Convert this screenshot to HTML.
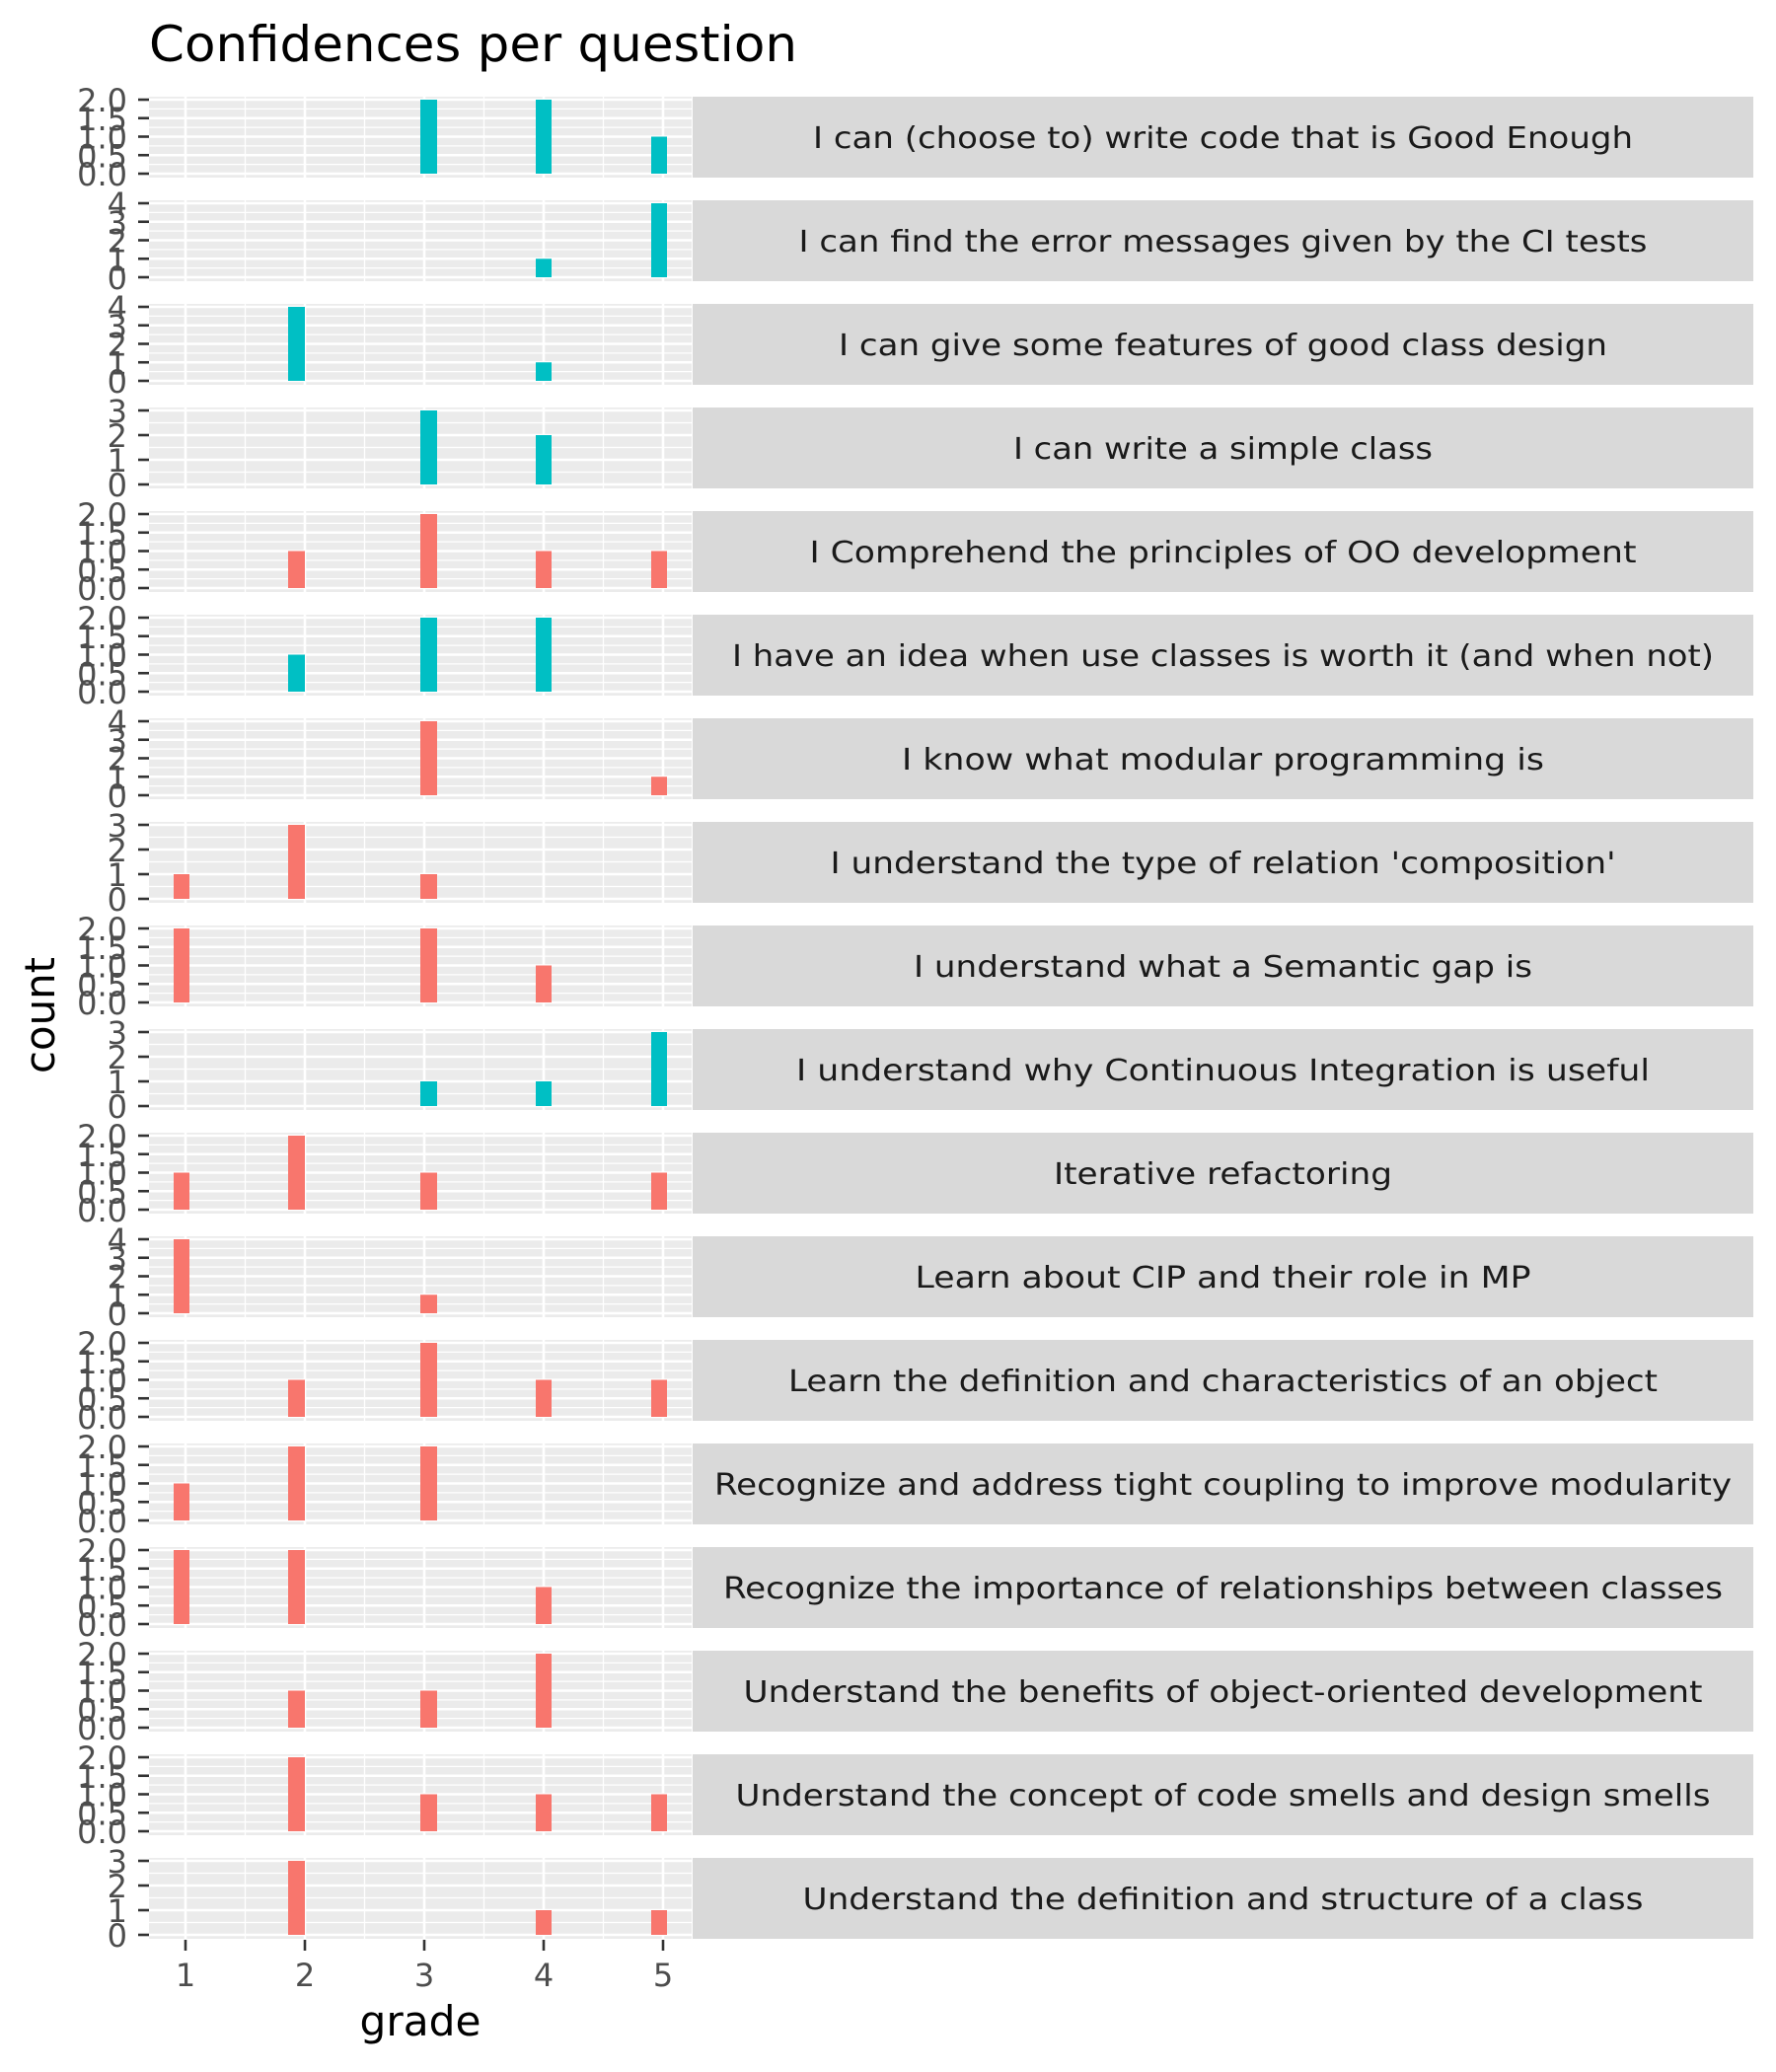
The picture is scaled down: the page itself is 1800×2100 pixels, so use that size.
<!DOCTYPE html>
<html><head><meta charset="utf-8"><style>
html,body{margin:0;padding:0;background:#fff;}
svg{display:block;}
text{font-family:"DejaVu Sans","Liberation Sans",sans-serif;}
.yl{font-size:32px;fill:#4d4d4d;text-anchor:end;}
.xl{font-size:32px;fill:#4d4d4d;text-anchor:middle;}
.st{font-size:30px;fill:#1a1a1a;text-anchor:middle;}
.t{fill:#00bfc4;} .r{fill:#f8766d;}
</style></head><body>
<svg width="1800" height="2100" viewBox="0 0 1800 2100" xmlns="http://www.w3.org/2000/svg">
<defs>
<g id="vg">
<rect x="151" y="0" width="550" height="82" fill="#ebebeb"/>
<g stroke="#fff" stroke-width="1.3">
<line x1="248.5" y1="0" x2="248.5" y2="82"/><line x1="369.5" y1="0" x2="369.5" y2="82"/><line x1="490.5" y1="0" x2="490.5" y2="82"/><line x1="611.5" y1="0" x2="611.5" y2="82"/>
</g>
<g stroke="#fff" stroke-width="2.6">
<line x1="188" y1="0" x2="188" y2="82"/><line x1="309" y1="0" x2="309" y2="82"/><line x1="430" y1="0" x2="430" y2="82"/><line x1="551" y1="0" x2="551" y2="82"/><line x1="672" y1="0" x2="672" y2="82"/>
</g>
<rect x="702" y="0" width="1075" height="82" fill="#d9d9d9"/>
</g>
<g id="g4">
<use href="#vg"/>
<g stroke="#fff" stroke-width="1.3">
<line x1="151" y1="68.6" x2="701" y2="68.6"/><line x1="151" y1="49.9" x2="701" y2="49.9"/><line x1="151" y1="31.1" x2="701" y2="31.1"/><line x1="151" y1="12.4" x2="701" y2="12.4"/>
</g>
<g stroke="#fff" stroke-width="2.6">
<line x1="151" y1="78" x2="701" y2="78"/><line x1="151" y1="59.25" x2="701" y2="59.25"/><line x1="151" y1="40.5" x2="701" y2="40.5"/><line x1="151" y1="21.75" x2="701" y2="21.75"/><line x1="151" y1="3" x2="701" y2="3"/>
</g>
<g stroke="#333" stroke-width="2.6">
<line x1="140" y1="78" x2="151" y2="78"/><line x1="140" y1="59.25" x2="151" y2="59.25"/><line x1="140" y1="40.5" x2="151" y2="40.5"/><line x1="140" y1="21.75" x2="151" y2="21.75"/><line x1="140" y1="3" x2="151" y2="3"/>
</g>
</g>
<g id="g3">
<use href="#vg"/>
<g stroke="#fff" stroke-width="1.3">
<line x1="151" y1="65.5" x2="701" y2="65.5"/><line x1="151" y1="40.5" x2="701" y2="40.5"/><line x1="151" y1="15.5" x2="701" y2="15.5"/>
</g>
<g stroke="#fff" stroke-width="2.6">
<line x1="151" y1="78" x2="701" y2="78"/><line x1="151" y1="53" x2="701" y2="53"/><line x1="151" y1="28" x2="701" y2="28"/><line x1="151" y1="3" x2="701" y2="3"/>
</g>
<g stroke="#333" stroke-width="2.6">
<line x1="140" y1="78" x2="151" y2="78"/><line x1="140" y1="53" x2="151" y2="53"/><line x1="140" y1="28" x2="151" y2="28"/><line x1="140" y1="3" x2="151" y2="3"/>
</g>
</g>
</defs>

<text x="151" y="62" font-size="50" fill="#000" textLength="657" lengthAdjust="spacingAndGlyphs">Confidences per question</text>

<g transform="translate(0,98)"><use href="#g4"/>
<text class="yl" x="129" y="90">0.0</text><text class="yl" x="129" y="71.25">0.5</text><text class="yl" x="129" y="52.5">1.0</text><text class="yl" x="129" y="33.75">1.5</text><text class="yl" x="129" y="15">2.0</text>
<rect class="t" x="426" y="3" width="17" height="75"/><rect class="t" x="543" y="3" width="16" height="75"/><rect class="t" x="660" y="40.5" width="16" height="37.5"/>
<text class="st" x="1239.5" y="52" textLength="831" lengthAdjust="spacingAndGlyphs">I can (choose to) write code that is Good Enough</text></g>
<g transform="translate(0,203)"><use href="#g4"/>
<text class="yl" x="129" y="90">0</text><text class="yl" x="129" y="71.25">1</text><text class="yl" x="129" y="52.5">2</text><text class="yl" x="129" y="33.75">3</text><text class="yl" x="129" y="15">4</text>
<rect class="t" x="543" y="59.25" width="16" height="18.75"/><rect class="t" x="660" y="3" width="16" height="75"/>
<text class="st" x="1239.5" y="52" textLength="860" lengthAdjust="spacingAndGlyphs">I can find the error messages given by the CI tests</text></g>
<g transform="translate(0,308)"><use href="#g4"/>
<text class="yl" x="129" y="90">0</text><text class="yl" x="129" y="71.25">1</text><text class="yl" x="129" y="52.5">2</text><text class="yl" x="129" y="33.75">3</text><text class="yl" x="129" y="15">4</text>
<rect class="t" x="292" y="3" width="17" height="75"/><rect class="t" x="543" y="59.25" width="16" height="18.75"/>
<text class="st" x="1239.5" y="52" textLength="779" lengthAdjust="spacingAndGlyphs">I can give some features of good class design</text></g>
<g transform="translate(0,413)"><use href="#g3"/>
<text class="yl" x="129" y="90">0</text><text class="yl" x="129" y="65">1</text><text class="yl" x="129" y="40">2</text><text class="yl" x="129" y="15">3</text>
<rect class="t" x="426" y="3" width="17" height="75"/><rect class="t" x="543" y="28" width="16" height="50"/>
<text class="st" x="1239.5" y="52" textLength="425" lengthAdjust="spacingAndGlyphs">I can write a simple class</text></g>
<g transform="translate(0,518)"><use href="#g4"/>
<text class="yl" x="129" y="90">0.0</text><text class="yl" x="129" y="71.25">0.5</text><text class="yl" x="129" y="52.5">1.0</text><text class="yl" x="129" y="33.75">1.5</text><text class="yl" x="129" y="15">2.0</text>
<rect class="r" x="292" y="40.5" width="17" height="37.5"/><rect class="r" x="426" y="3" width="17" height="75"/><rect class="r" x="543" y="40.5" width="16" height="37.5"/><rect class="r" x="660" y="40.5" width="16" height="37.5"/>
<text class="st" x="1239.5" y="52" textLength="838" lengthAdjust="spacingAndGlyphs">I Comprehend the principles of OO development</text></g>
<g transform="translate(0,623)"><use href="#g4"/>
<text class="yl" x="129" y="90">0.0</text><text class="yl" x="129" y="71.25">0.5</text><text class="yl" x="129" y="52.5">1.0</text><text class="yl" x="129" y="33.75">1.5</text><text class="yl" x="129" y="15">2.0</text>
<rect class="t" x="292" y="40.5" width="17" height="37.5"/><rect class="t" x="426" y="3" width="17" height="75"/><rect class="t" x="543" y="3" width="16" height="75"/>
<text class="st" x="1239.5" y="52" textLength="995" lengthAdjust="spacingAndGlyphs">I have an idea when use classes is worth it (and when not)</text></g>
<g transform="translate(0,728)"><use href="#g4"/>
<text class="yl" x="129" y="90">0</text><text class="yl" x="129" y="71.25">1</text><text class="yl" x="129" y="52.5">2</text><text class="yl" x="129" y="33.75">3</text><text class="yl" x="129" y="15">4</text>
<rect class="r" x="426" y="3" width="17" height="75"/><rect class="r" x="660" y="59.25" width="16" height="18.75"/>
<text class="st" x="1239.5" y="52" textLength="651" lengthAdjust="spacingAndGlyphs">I know what modular programming is</text></g>
<g transform="translate(0,833)"><use href="#g3"/>
<text class="yl" x="129" y="90">0</text><text class="yl" x="129" y="65">1</text><text class="yl" x="129" y="40">2</text><text class="yl" x="129" y="15">3</text>
<rect class="r" x="176" y="53" width="16" height="25"/><rect class="r" x="292" y="3" width="17" height="75"/><rect class="r" x="426" y="53" width="17" height="25"/>
<text class="st" x="1239.5" y="52" textLength="796" lengthAdjust="spacingAndGlyphs">I understand the type of relation 'composition'</text></g>
<g transform="translate(0,938)"><use href="#g4"/>
<text class="yl" x="129" y="90">0.0</text><text class="yl" x="129" y="71.25">0.5</text><text class="yl" x="129" y="52.5">1.0</text><text class="yl" x="129" y="33.75">1.5</text><text class="yl" x="129" y="15">2.0</text>
<rect class="r" x="176" y="3" width="16" height="75"/><rect class="r" x="426" y="3" width="17" height="75"/><rect class="r" x="543" y="40.5" width="16" height="37.5"/>
<text class="st" x="1239.5" y="52" textLength="627" lengthAdjust="spacingAndGlyphs">I understand what a Semantic gap is</text></g>
<g transform="translate(0,1043)"><use href="#g3"/>
<text class="yl" x="129" y="90">0</text><text class="yl" x="129" y="65">1</text><text class="yl" x="129" y="40">2</text><text class="yl" x="129" y="15">3</text>
<rect class="t" x="426" y="53" width="17" height="25"/><rect class="t" x="543" y="53" width="16" height="25"/><rect class="t" x="660" y="3" width="16" height="75"/>
<text class="st" x="1239.5" y="52" textLength="865" lengthAdjust="spacingAndGlyphs">I understand why Continuous Integration is useful</text></g>
<g transform="translate(0,1148)"><use href="#g4"/>
<text class="yl" x="129" y="90">0.0</text><text class="yl" x="129" y="71.25">0.5</text><text class="yl" x="129" y="52.5">1.0</text><text class="yl" x="129" y="33.75">1.5</text><text class="yl" x="129" y="15">2.0</text>
<rect class="r" x="176" y="40.5" width="16" height="37.5"/><rect class="r" x="292" y="3" width="17" height="75"/><rect class="r" x="426" y="40.5" width="17" height="37.5"/><rect class="r" x="660" y="40.5" width="16" height="37.5"/>
<text class="st" x="1239.5" y="52" textLength="343" lengthAdjust="spacingAndGlyphs">Iterative refactoring</text></g>
<g transform="translate(0,1253)"><use href="#g4"/>
<text class="yl" x="129" y="90">0</text><text class="yl" x="129" y="71.25">1</text><text class="yl" x="129" y="52.5">2</text><text class="yl" x="129" y="33.75">3</text><text class="yl" x="129" y="15">4</text>
<rect class="r" x="176" y="3" width="16" height="75"/><rect class="r" x="426" y="59.25" width="17" height="18.75"/>
<text class="st" x="1239.5" y="52" textLength="624" lengthAdjust="spacingAndGlyphs">Learn about CIP and their role in MP</text></g>
<g transform="translate(0,1358)"><use href="#g4"/>
<text class="yl" x="129" y="90">0.0</text><text class="yl" x="129" y="71.25">0.5</text><text class="yl" x="129" y="52.5">1.0</text><text class="yl" x="129" y="33.75">1.5</text><text class="yl" x="129" y="15">2.0</text>
<rect class="r" x="292" y="40.5" width="17" height="37.5"/><rect class="r" x="426" y="3" width="17" height="75"/><rect class="r" x="543" y="40.5" width="16" height="37.5"/><rect class="r" x="660" y="40.5" width="16" height="37.5"/>
<text class="st" x="1239.5" y="52" textLength="881" lengthAdjust="spacingAndGlyphs">Learn the definition and characteristics of an object</text></g>
<g transform="translate(0,1463)"><use href="#g4"/>
<text class="yl" x="129" y="90">0.0</text><text class="yl" x="129" y="71.25">0.5</text><text class="yl" x="129" y="52.5">1.0</text><text class="yl" x="129" y="33.75">1.5</text><text class="yl" x="129" y="15">2.0</text>
<rect class="r" x="176" y="40.5" width="16" height="37.5"/><rect class="r" x="292" y="3" width="17" height="75"/><rect class="r" x="426" y="3" width="17" height="75"/>
<text class="st" x="1239.5" y="52" textLength="1031" lengthAdjust="spacingAndGlyphs">Recognize and address tight coupling to improve modularity</text></g>
<g transform="translate(0,1568)"><use href="#g4"/>
<text class="yl" x="129" y="90">0.0</text><text class="yl" x="129" y="71.25">0.5</text><text class="yl" x="129" y="52.5">1.0</text><text class="yl" x="129" y="33.75">1.5</text><text class="yl" x="129" y="15">2.0</text>
<rect class="r" x="176" y="3" width="16" height="75"/><rect class="r" x="292" y="3" width="17" height="75"/><rect class="r" x="543" y="40.5" width="16" height="37.5"/>
<text class="st" x="1239.5" y="52" textLength="1013" lengthAdjust="spacingAndGlyphs">Recognize the importance of relationships between classes</text></g>
<g transform="translate(0,1673)"><use href="#g4"/>
<text class="yl" x="129" y="90">0.0</text><text class="yl" x="129" y="71.25">0.5</text><text class="yl" x="129" y="52.5">1.0</text><text class="yl" x="129" y="33.75">1.5</text><text class="yl" x="129" y="15">2.0</text>
<rect class="r" x="292" y="40.5" width="17" height="37.5"/><rect class="r" x="426" y="40.5" width="17" height="37.5"/><rect class="r" x="543" y="3" width="16" height="75"/>
<text class="st" x="1239.5" y="52" textLength="972" lengthAdjust="spacingAndGlyphs">Understand the benefits of object-oriented development</text></g>
<g transform="translate(0,1778)"><use href="#g4"/>
<text class="yl" x="129" y="90">0.0</text><text class="yl" x="129" y="71.25">0.5</text><text class="yl" x="129" y="52.5">1.0</text><text class="yl" x="129" y="33.75">1.5</text><text class="yl" x="129" y="15">2.0</text>
<rect class="r" x="292" y="3" width="17" height="75"/><rect class="r" x="426" y="40.5" width="17" height="37.5"/><rect class="r" x="543" y="40.5" width="16" height="37.5"/><rect class="r" x="660" y="40.5" width="16" height="37.5"/>
<text class="st" x="1239.5" y="52" textLength="988" lengthAdjust="spacingAndGlyphs">Understand the concept of code smells and design smells</text></g>
<g transform="translate(0,1883)"><use href="#g3"/>
<text class="yl" x="129" y="90">0</text><text class="yl" x="129" y="65">1</text><text class="yl" x="129" y="40">2</text><text class="yl" x="129" y="15">3</text>
<rect class="r" x="292" y="3" width="17" height="75"/><rect class="r" x="543" y="53" width="16" height="25"/><rect class="r" x="660" y="53" width="16" height="25"/>
<text class="st" x="1239.5" y="52" textLength="852" lengthAdjust="spacingAndGlyphs">Understand the definition and structure of a class</text></g>

<g stroke="#333" stroke-width="2.6">
<line x1="188" y1="1966" x2="188" y2="1977"/><line x1="309" y1="1966" x2="309" y2="1977"/><line x1="430" y1="1966" x2="430" y2="1977"/><line x1="551" y1="1966" x2="551" y2="1977"/><line x1="672" y1="1966" x2="672" y2="1977"/>
</g>
<text class="xl" x="188" y="2013">1</text><text class="xl" x="309" y="2013">2</text><text class="xl" x="430" y="2013">3</text><text class="xl" x="551" y="2013">4</text><text class="xl" x="672" y="2013">5</text>
<text x="426" y="2063" font-size="42" text-anchor="middle" fill="#000" textLength="123" lengthAdjust="spacingAndGlyphs">grade</text>
<text x="0" y="0" font-size="42" text-anchor="middle" fill="#000" transform="translate(55,1029) rotate(-90)" textLength="118" lengthAdjust="spacingAndGlyphs">count</text>
</svg>
</body></html>
